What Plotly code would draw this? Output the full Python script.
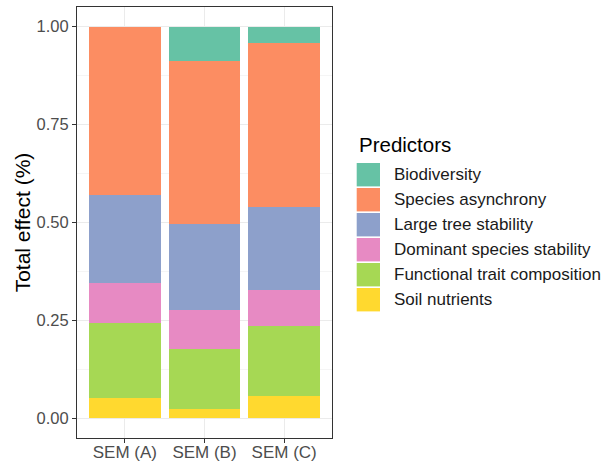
import plotly.graph_objects as go

models = ["SEM (A)", "SEM (B)", "SEM (C)"]
predictors = ["Soil nutrients", "Functional trait composition", "Dominant species stability",
              "Large tree stability", "Species asynchrony", "Biodiversity"]
colors = ["#FFD92F", "#A6D854", "#E78AC3", "#8DA0CB", "#FC8D62", "#66C2A5"]

soil_nutrients = [0.053, 0.024, 0.058]
functional_trait = [0.191, 0.154, 0.178]
dominant_species = [0.102, 0.099, 0.092]
large_tree = [0.225, 0.219, 0.211]
species_asynchrony = [0.429, 0.417, 0.420]
biodiversity = [0.0, 0.087, 0.041]

series = [soil_nutrients, functional_trait, dominant_species, large_tree, species_asynchrony, biodiversity]

tick_vals = [0, 0.25, 0.5, 0.75, 1.0]
tick_text = ["0.00", "0.25", "0.50", "0.75", "1.00"]
legend_title = "Predictors"

# layout geometry (pixels)
W, H = 607, 464
PL, PR, PT, PB = 77, 332, 7.3, 438.3


def px_x(px):
    return (px - PL) / (PR - PL)


def px_y(py):
    return (PB - py) / (PB - PT)


fig = go.Figure()
for name, vals, col in zip(predictors, series, colors):
    fig.add_trace(go.Bar(x=models, y=vals, name=name, marker=dict(color=col, line=dict(width=0)),
                         width=0.9, showlegend=False))

font = "Arial, Liberation Sans, sans-serif"

# manual ggplot-style legend (top entry = last stacked series)
shapes = []
annotations = [dict(text=legend_title, x=px_x(357), y=px_y(144.5), xref="paper", yref="paper",
                    xanchor="left", yanchor="middle", showarrow=False,
                    font=dict(size=20.5, color="#000", family=font))]
for i, (name, col) in enumerate(zip(predictors[::-1], colors[::-1])):
    cy = 175 + 25 * i
    shapes.append(dict(type="rect", xref="paper", yref="paper",
                       x0=px_x(356.7), x1=px_x(380), y0=px_y(cy + 11.7), y1=px_y(cy - 11.7),
                       fillcolor=col, line=dict(width=0)))
    annotations.append(dict(text=name, x=px_x(391.5), y=px_y(cy), xref="paper", yref="paper",
                            xanchor="left", yanchor="middle", showarrow=False,
                            font=dict(size=17, color="#1a1a1a", family=font)))

fig.update_layout(
    barmode="stack",
    width=W, height=H,
    margin=dict(l=PL, r=W - PR, t=PT, b=H - PB),
    paper_bgcolor="white", plot_bgcolor="white",
    font=dict(family=font, color="#000000"),
    shapes=shapes, annotations=annotations,
    xaxis=dict(
        range=[-0.6, 2.6], showgrid=True, gridcolor="#EBEBEB", gridwidth=1,
        showline=True, mirror=True, linecolor="#333333", linewidth=1,
        ticks="outside", ticklen=4, tickcolor="#333333", automargin=False,
        ticklabelstandoff=-5,
        tickfont=dict(size=17, color="#4D4D4D", family=font),
    ),
    yaxis=dict(
        range=[-0.05, 1.05], tickvals=tick_vals, ticktext=tick_text,
        showgrid=True, gridcolor="#EBEBEB", gridwidth=1, zeroline=False,
        minor=dict(tickvals=[0.125, 0.375, 0.625, 0.875], showgrid=True, gridcolor="#F5F5F5", ticks=""),
        showline=True, mirror=True, linecolor="#333333", linewidth=1,
        ticks="outside", ticklen=4, tickcolor="#333333", automargin=False,
        tickfont=dict(size=16.5, color="#4D4D4D", family=font),
        title=dict(text="Total effect (%)", font=dict(size=21, color="#000", family=font), standoff=0),
    ),
)

fig.write_html("out.html", post_script="document.body.style.margin='0';",
               config={"displayModeBar": False})
